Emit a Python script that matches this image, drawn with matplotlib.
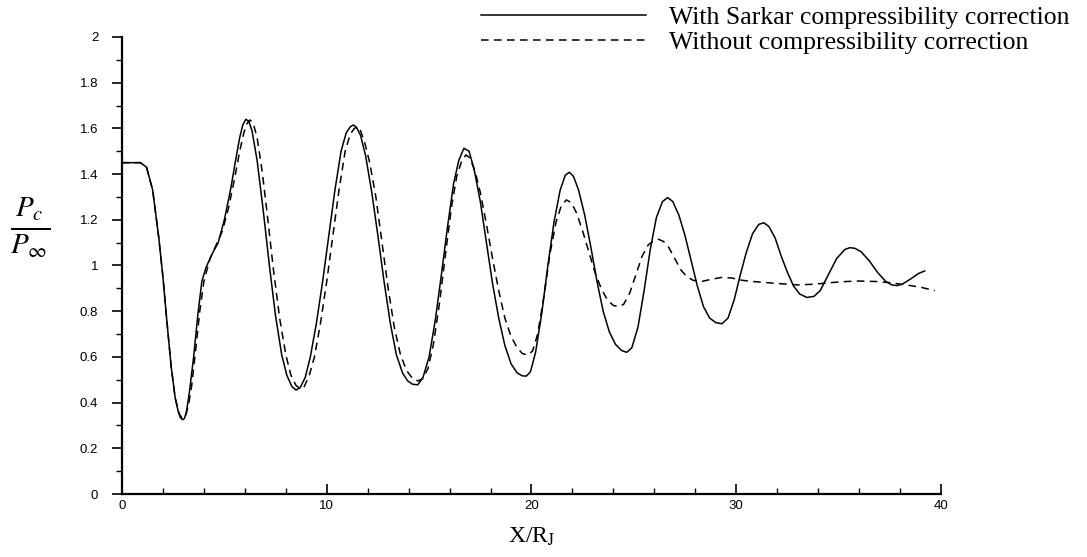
import matplotlib
matplotlib.use("Agg")
from matplotlib import pyplot as plt

# readings from the figure: X/R_J and Pc/Pinf
x_with = [0, 0.5, 0.9, 1.2, 1.5, 1.8, 2.0, 2.2, 2.4, 2.6,
          2.75, 2.85, 2.95, 3.05, 3.15, 3.3, 3.5, 3.7, 3.9, 4.1,
          4.4, 4.7, 5.0, 5.3, 5.55, 5.75, 5.9, 6.05, 6.2, 6.35,
          6.6, 6.9, 7.2, 7.5, 7.8, 8.05, 8.3, 8.5, 8.7, 8.95,
          9.2, 9.5, 9.8, 10.1, 10.4, 10.7, 10.95, 11.15, 11.3, 11.45,
          11.65, 11.9, 12.2, 12.5, 12.8, 13.1, 13.4, 13.7, 13.95, 14.2,
          14.45, 14.7, 15.0, 15.3, 15.6, 15.9, 16.2, 16.45, 16.7, 16.95,
          17.2, 17.5, 17.8, 18.1, 18.4, 18.7, 19.0, 19.3, 19.55, 19.75,
          19.95, 20.2, 20.5, 20.8, 21.1, 21.4, 21.65, 21.85, 22.05, 22.3,
          22.6, 22.9, 23.2, 23.5, 23.8, 24.1, 24.4, 24.65, 24.9, 25.2,
          25.5, 25.8, 26.1, 26.4, 26.65, 26.9, 27.2, 27.5, 27.8, 28.1,
          28.4, 28.7, 29.0, 29.3, 29.6, 29.9, 30.2, 30.5, 30.8, 31.1,
          31.35, 31.6, 31.9, 32.2, 32.5, 32.8, 33.1, 33.45, 33.8, 34.1,
          34.5, 34.9, 35.3, 35.55, 35.8, 36.1, 36.5, 36.9, 37.3, 37.6,
          37.85, 38.1, 38.5, 38.9, 39.2]
p_with = [1.45, 1.45, 1.45, 1.43, 1.33, 1.12, 0.95, 0.75, 0.56, 0.42,
          0.36, 0.335, 0.325, 0.33, 0.36, 0.45, 0.6, 0.78, 0.93, 0.99,
          1.05, 1.1, 1.2, 1.33, 1.46, 1.56, 1.615, 1.64, 1.63, 1.59,
          1.46, 1.24, 1.0, 0.78, 0.61, 0.52, 0.47, 0.455, 0.465, 0.51,
          0.6, 0.75, 0.93, 1.13, 1.33, 1.5, 1.58, 1.607, 1.615, 1.605,
          1.57, 1.48, 1.32, 1.13, 0.93, 0.75, 0.61, 0.53, 0.495, 0.48,
          0.478, 0.51, 0.6, 0.76, 0.96, 1.17, 1.36, 1.46, 1.513, 1.5,
          1.42, 1.28, 1.1, 0.92, 0.77, 0.65, 0.57, 0.53, 0.517, 0.516,
          0.535, 0.62, 0.79, 1.0, 1.19, 1.33, 1.395, 1.408, 1.39, 1.33,
          1.22, 1.08, 0.93, 0.8, 0.71, 0.655, 0.628, 0.62, 0.64, 0.73,
          0.89, 1.07, 1.21, 1.28, 1.297, 1.28, 1.22, 1.13, 1.02, 0.91,
          0.82, 0.77, 0.75, 0.745, 0.77, 0.85, 0.96, 1.06, 1.14, 1.18,
          1.187, 1.17, 1.12, 1.04, 0.97, 0.91, 0.875, 0.86, 0.865, 0.89,
          0.96, 1.03, 1.07, 1.078, 1.075, 1.06, 1.02, 0.97, 0.93, 0.915,
          0.912, 0.918, 0.94, 0.965, 0.976]

x_without = [0, 0.5, 0.9, 1.2, 1.5, 1.8, 2.0, 2.2, 2.4, 2.6,
             2.8, 2.95, 3.1, 3.25, 3.4, 3.6, 3.8, 4.0, 4.3, 4.6,
             4.9, 5.2, 5.5, 5.75, 5.95, 6.1, 6.25, 6.4, 6.6, 6.85,
             7.1, 7.4, 7.7, 8.0, 8.25, 8.5, 8.7, 8.9, 9.15, 9.4,
             9.7, 10.0, 10.3, 10.6, 10.9, 11.15, 11.35, 11.5, 11.65, 11.85,
             12.1, 12.4, 12.7, 13.0, 13.3, 13.6, 13.9, 14.2, 14.45, 14.7,
             14.95, 15.2, 15.5, 15.8, 16.1, 16.35, 16.6, 16.8, 17.0, 17.25,
             17.5, 17.8, 18.1, 18.4, 18.7, 19.0, 19.3, 19.55, 19.8, 20.05,
             20.3, 20.6, 20.9, 21.2, 21.45, 21.7, 21.95, 22.2, 22.5, 22.8,
             23.1, 23.4, 23.7, 24.0, 24.25, 24.5, 24.8, 25.1, 25.4, 25.7,
             26.0, 26.2, 26.45, 26.7, 27.0, 27.3, 27.6, 27.9, 28.3, 28.8,
             29.3, 29.8, 30.3, 30.8, 31.5, 32.2, 33.0, 33.8, 34.6, 35.4,
             36.0, 36.8, 37.5, 38.3, 39.0, 39.7]
p_without = [1.45, 1.45, 1.45, 1.43, 1.33, 1.12, 0.95, 0.75, 0.56, 0.42,
             0.35, 0.33, 0.34, 0.39, 0.47, 0.63, 0.8, 0.93, 1.03, 1.09,
             1.15, 1.25, 1.38, 1.5, 1.58, 1.62, 1.637, 1.625, 1.56, 1.41,
             1.22, 0.98, 0.77, 0.61, 0.52, 0.475, 0.462, 0.47, 0.52, 0.6,
             0.75, 0.93, 1.13, 1.33, 1.5, 1.575, 1.6, 1.607, 1.59, 1.54,
             1.45, 1.3, 1.1, 0.9, 0.73, 0.61, 0.54, 0.505, 0.495, 0.505,
             0.55, 0.65, 0.83, 1.05, 1.26, 1.39, 1.46, 1.484, 1.47, 1.41,
             1.32, 1.18, 1.03, 0.89, 0.77, 0.69, 0.64, 0.615, 0.608, 0.625,
             0.7, 0.86, 1.05, 1.19, 1.26, 1.287, 1.275, 1.23, 1.15, 1.06,
             0.97, 0.9, 0.85, 0.825, 0.82, 0.83, 0.88, 0.96, 1.04, 1.09,
             1.11, 1.115, 1.105, 1.08, 1.03, 0.98, 0.95, 0.935, 0.93, 0.94,
             0.948, 0.945, 0.935, 0.93, 0.925, 0.92, 0.915, 0.918, 0.925, 0.93,
             0.932, 0.93, 0.925, 0.915, 0.905, 0.89]

x_ticks = [0, 10, 20, 30, 40]
x_minor = [2, 4, 6, 8, 12, 14, 16, 18, 22, 24, 26, 28, 32, 34, 36, 38]
y_ticks = [0, 0.2, 0.4, 0.6, 0.8, 1.0, 1.2, 1.4, 1.6, 1.8, 2.0]
y_tick_labels = ['0', '0.2', '0.4', '0.6', '0.8', '1', '1.2', '1.4', '1.6', '1.8', '2']
y_minor = [0.1, 0.3, 0.5, 0.7, 0.9, 1.1, 1.3, 1.5, 1.7, 1.9]

label_with = "With Sarkar compressibility correction"
label_without = "Without compressibility correction"

plt.rcParams['mathtext.fontset'] = 'stix'

fig = plt.figure(figsize=(10.87, 5.57), dpi=100)
ax = fig.add_axes([0.1122, 0.1131, 0.7535, 0.8205])

ax.plot(x_with, p_with, color='black', lw=1.1, solid_joinstyle='round', label=label_with)
ax.plot(x_without, p_without, color='black', lw=1.1, linestyle=(0, (5, 3.5)),
        dash_joinstyle='round', label=label_without)

ax.set_xlim(0, 40)
ax.set_ylim(0, 2)
ax.set_xticks(x_ticks, [str(t) for t in x_ticks])
ax.set_xticks(x_minor, minor=True)
ax.set_yticks(y_ticks, y_tick_labels)
ax.set_yticks(y_minor, minor=True)

for s in ['top', 'right']:
    ax.spines[s].set_visible(False)
for s in ['left', 'bottom']:
    ax.spines[s].set_linewidth(1.6)

ax.tick_params(axis='y', which='major', direction='out', length=7, width=1.2, pad=10)
ax.tick_params(axis='y', which='minor', direction='out', length=4, width=1.0)
ax.tick_params(axis='x', which='major', direction='in', length=7, width=1.2, pad=4)
ax.tick_params(axis='x', which='minor', direction='in', length=4, width=1.0)
for lab in ax.get_xticklabels() + ax.get_yticklabels():
    lab.set_fontfamily('Liberation Sans')
    lab.set_fontsize(9.5)

ax.set_xlabel(r'X/R$_{\rm J}$', fontfamily='Liberation Serif', fontsize=17, labelpad=10)
fig.text(0.028, 0.59, r'$\frac{P_c}{P_\infty}$', fontsize=30, ha='center', va='center')

fig.legend(loc='upper right', bbox_to_anchor=(1.005, 1.03), frameon=False,
           handlelength=6.4, handletextpad=0.9, labelspacing=0.05,
           prop={'family': 'Liberation Serif', 'size': 18.5})

fig.savefig('out.png', dpi=100)
